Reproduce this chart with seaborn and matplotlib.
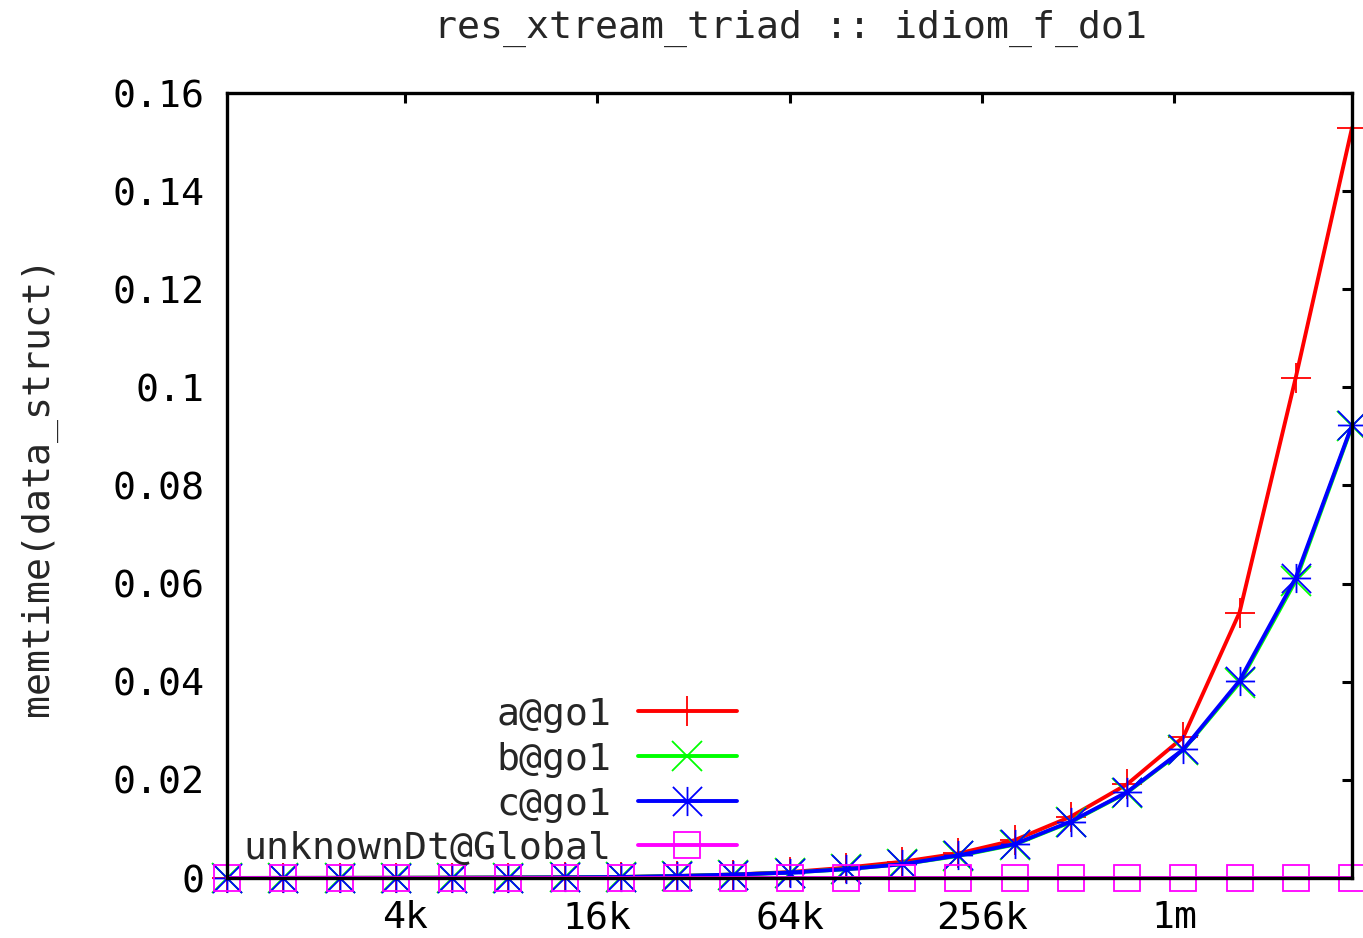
import numpy as np
import pandas as pd
import matplotlib
matplotlib.use("Agg")
import matplotlib.pyplot as plt
from matplotlib.path import Path
import seaborn as sns

# ---- data ----
sizes = [1136, 1705, 2557, 3836, 5753, 8630, 12945, 19417, 29127, 43691,
         65536, 98304, 147456, 221184, 331776, 497664, 746496, 1119744,
         1679616, 2519424, 3779136]
a_go1 = [0.00001, 0.00002, 0.00003, 0.00004, 0.00006, 0.00009, 0.00013, 0.0002,
         0.0004, 0.0007, 0.0012, 0.0021, 0.0033, 0.0050, 0.0077, 0.0125,
         0.0191, 0.0287, 0.0541, 0.1020, 0.1529]
b_go1 = [0.00001, 0.00002, 0.00003, 0.00004, 0.00006, 0.00009, 0.00013, 0.0002,
         0.0004, 0.0007, 0.0011, 0.0018, 0.0028, 0.0045, 0.0068, 0.0114,
         0.0174, 0.0261, 0.0398, 0.0606, 0.0921]
c_go1 = [0.00001, 0.00002, 0.00003, 0.00004, 0.00006, 0.00009, 0.00013, 0.0002,
         0.0004, 0.0007, 0.0011, 0.0018, 0.0028, 0.0046, 0.0069, 0.0115,
         0.0175, 0.0262, 0.0402, 0.0612, 0.0923]
unknown_global = [0.0] * 21

series_names = ["a@go1", "b@go1", "c@go1", "unknownDt@Global"]
series_values = [a_go1, b_go1, c_go1, unknown_global]
xtick_values = [4096, 16384, 65536, 262144, 1048576]
xtick_labels = ["4k", "16k", "64k", "256k", "1m"]
ytick_values = [0, 0.02, 0.04, 0.06, 0.08, 0.10, 0.12, 0.14, 0.16]
ytick_labels = ["0", "0.02", "0.04", "0.06", "0.08", "0.1", "0.12", "0.14", "0.16"]
title = "res_xtream_triad :: idiom_f_do1"
ylabel = "memtime(data_struct)"

# ---- style ----
sns.set_style("white")
plt.rcParams["font.family"] = ["DejaVu Sans Mono", "DejaVu Sans"]
FS = 27.5

# asterisk marker (+ and x combined)
star_path = Path(
    [(-1, 0), (1, 0), (0, -1), (0, 1), (-1, -1), (1, 1), (-1, 1), (1, -1)],
    [Path.MOVETO, Path.LINETO, Path.MOVETO, Path.LINETO,
     Path.MOVETO, Path.LINETO, Path.MOVETO, Path.LINETO])

colors = ["#ff0000", "#00ff00", "#0000ff", "#ff00ff"]
markers = ["+", "x", star_path, "s"]
msizes = [21, 21, 21, 19]
LW = 2.8
MEW = 1.3

fig = plt.figure(figsize=(13.63, 9.38), dpi=100)
ax = fig.add_axes([227 / 1363, 1 - 878 / 938, 1125 / 1363, 785 / 938])

df = pd.DataFrame({"size": sizes})
for name, vals in zip(series_names, series_values):
    df[name] = vals

for name, col, mk, ms in zip(series_names, colors, markers, msizes):
    sns.lineplot(data=df, x="size", y=name, ax=ax, color=col, linewidth=LW,
                 marker=mk, markersize=ms, markeredgewidth=MEW,
                 markerfacecolor="none", markeredgecolor=col,
                 clip_on=False, zorder=3)

ax.set_xscale("log", base=2)
ax.set_xlim(sizes[0], sizes[-1])
ax.set_ylim(0, 0.16)
ax.set_xticks(xtick_values)
ax.set_xticklabels(xtick_labels)
ax.xaxis.set_minor_locator(matplotlib.ticker.NullLocator())
ax.set_yticks(ytick_values)
ax.set_yticklabels(ytick_labels)
ax.tick_params(axis="both", which="major", direction="in", length=7, width=2.2,
               labelsize=FS, colors="black", top=True, right=True)
ax.tick_params(axis="x", pad=16)
ax.tick_params(axis="y", pad=16)
for sp in ax.spines.values():
    sp.set_linewidth(2.4)
    sp.set_color("black")
    sp.set_zorder(5)
ax.set_xlabel("")
ax.set_ylabel(ylabel, fontsize=FS, va="center")
ax.yaxis.set_label_coords(-0.168, 0.5)
ax.grid(False)

fig.text(790 / 1363, 1 - 28 / 938, title, fontsize=FS, ha="center", va="center")

# ---- legend (right-aligned text, sample to the right) ----
leg_y = [0.2127, 0.1554, 0.0981, 0.0420]
for name, col, mk, ms, yy in zip(series_names, colors, markers, msizes, leg_y):
    ax.text(0.342, yy, name, transform=ax.transAxes, fontsize=FS,
            ha="right", va="center_baseline", zorder=6)
    ax.plot([0.365, 0.409, 0.453], [yy, yy, yy], transform=ax.transAxes,
            color=col, linewidth=LW, marker=mk, markersize=ms,
            markeredgewidth=MEW, markerfacecolor="none", markevery=[1],
            clip_on=False, zorder=6)

fig.savefig("out.png", dpi=100)
